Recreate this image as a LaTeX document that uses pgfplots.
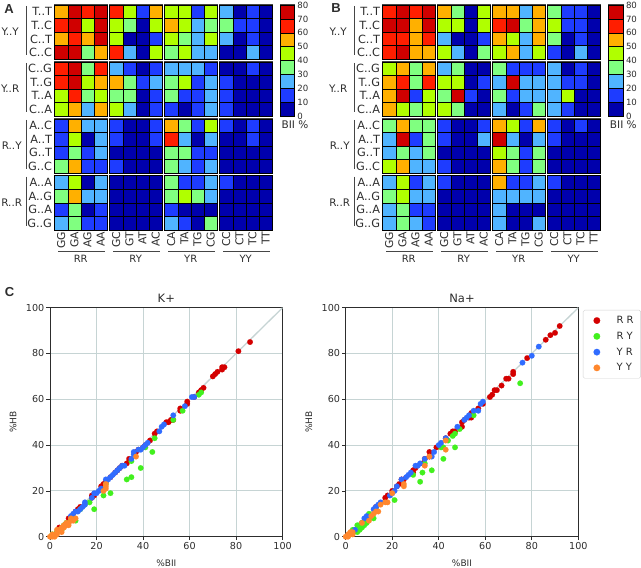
\documentclass[border=0pt]{standalone}
\usepackage{fontspec}
\setmainfont{DejaVu Sans}
\newfontfamily\lett{Liberation Sans}
\usepackage{pgfplots}
\pgfplotsset{compat=1.18}
\definecolor{txt}{RGB}{45,45,45}
\definecolor{frm}{RGB}{70,70,70}
\definecolor{gr}{RGB}{198,212,212}
\definecolor{cRR}{RGB}{212,0,0}
\definecolor{cRY}{RGB}{66,240,30}
\definecolor{cYR}{RGB}{48,108,255}
\definecolor{cYY}{RGB}{255,135,45}
\newcommand{\fs}[1]{\fontsize{#1bp}{#1bp}\selectfont}
% one 4x4 block: left, top, values row by row
\newcommand{\hm}[3]{%
  \addplot[scatter, only marks, mark=square*, mark size=6.5625bp, mark options={yscale=1.034, line width=.45bp},
    scatter/use mapped color={draw=black, fill=mapped color}, point meta=\thisrowno{0}]
    table[header=false, row sep=\\, x expr={#1+13.125*(mod(\coordindex,4)+0.5)}, y expr={#2+13.575*(floor((\coordindex+0.1)/4)+0.5)}]{#3};
  \draw[frm, line width=1bp] (axis cs:#1,#2) rectangle (axis cs:#1+52.5,#2+54.3);
}
\pgfplotsset{
  binv/.style={colormap={bii}{rgb255(5)=(0,0,172) rgb255(15)=(30,60,255) rgb255(25)=(80,180,255) rgb255(35)=(128,255,128) rgb255(45)=(176,255,0) rgb255(55)=(255,176,0) rgb255(65)=(255,30,0) rgb255(75)=(208,0,0)},
    point meta min=5, point meta max=75},
  heat/.style={binv, scale only axis, width=217.5bp, height=225bp, clip=false,
    xmin=0, xmax=217.5, ymin=0, ymax=225, y dir=reverse, axis line style={draw=none},
    major tick length=0pt, xticklabel pos=lower, yticklabel pos=left,
    xtick={6.56,19.69,32.81,45.94,61.56,74.69,87.81,100.94,116.56,129.69,142.81,155.94,171.56,184.69,197.81,210.94},
    xticklabels={GG,GA,AG,AA,GC,GT,AT,AC,CA,TA,TG,CG,CC,CT,TC,TT},
    ytick={6.79,20.36,33.94,47.51,63.69,77.26,90.84,104.41,120.59,134.16,147.74,161.31,177.49,191.06,204.64,218.21},
    yticklabels={T..T,T..C,C..T,C..C,C..G,T..G,T..A,C..A,A..C,A..T,G..T,G..C,A..A,A..G,G..A,G..G},
    x tick label style={rotate=90, anchor=east, inner sep=1.5bp, font=\fs{10.8}, text=txt},
    y tick label style={inner sep=2.5bp, font=\fs{11.3}, text=txt}},
  cbar/.style={binv, scale only axis, width=14.6bp, height=111bp, xmin=-0.5, xmax=0.5, ymin=0, ymax=80, clip=false,
    xtick=\empty, ytick={0,10,...,80}, yticklabel pos=right, major tick length=0pt,
    axis line style={frm, line width=1bp},
    /pgf/number format/assume math mode=true,
    y tick label style={inner sep=2.5bp, font=\fs{8.6}, text=txt}},
  cbarcells/.style={scatter, only marks, mark=square*, mark size=7.3bp, mark options={yscale=.95, line width=.45bp},
    scatter/use mapped color={draw=black, fill=mapped color}, point meta=y},
  sc/.style={scale only axis, width=232.6bp, height=229bp, xmin=0, xmax=100, ymin=0, ymax=100,
    xtick={0,20,...,100}, ytick={0,20,...,100}, grid=major, major grid style={gr, line width=.9bp},
    tick align=outside, major tick length=3.5bp, xtick pos=bottom, ytick pos=left, tick style={txt, line width=.7bp},
    axis line style={txt, line width=.9bp},
    /pgf/number format/assume math mode=true,
    tick label style={font=\fs{9.6}, text=txt, inner sep=2bp},
    xlabel={\%BII}, ylabel={\%HB},
    label style={font=\fs{9}, text=txt},
    xlabel style={yshift=-4.5bp}, ylabel style={yshift=4bp},
    title style={font=\fs{11.5}, text=txt, yshift=-4.5bp}},
  dots/.style={only marks, color=#1, mark=*, mark size=2.8bp, mark options={draw=#1, fill=#1, line width=.1bp}},
  diag/.style={gr, line width=1.3bp, forget plot}
}
\newcommand{\extras}{%
  \node[font=\fs{10.4}, text=txt] at (axis cs:-44.5,26.7) {Y..Y};
  \node[font=\fs{10.4}, text=txt] at (axis cs:-44.5,84) {Y..R};
  \node[font=\fs{10.4}, text=txt] at (axis cs:-43,141) {R..Y};
  \node[font=\fs{10.4}, text=txt] at (axis cs:-43,197.7) {R..R};
  \foreach \yy in {1,57.9,114.8,171.7}{
    \edef\tmp{\noexpand\draw[frm, line width=1.2bp] (axis cs:-28.5,\yy) -- (axis cs:-28.5,\yy+49);}\tmp}
  \node[font=\fs{10}, text=txt] at (axis cs:26,254) {RR};
  \node[font=\fs{10}, text=txt] at (axis cs:81,254) {RY};
  \node[font=\fs{10}, text=txt] at (axis cs:136,254) {YR};
  \node[font=\fs{10}, text=txt] at (axis cs:191,254) {YY};
  \foreach \xx in {3.3,58.3,113.3,168.3}{
    \edef\tmp{\noexpand\draw[frm, line width=1bp] (axis cs:\xx,246.3) -- (axis cs:\xx+46.7,246.3);}\tmp}
}
\begin{document}
\begin{tikzpicture}
\useasboundingbox (0,0) rectangle (641bp,568bp);
\node[font=\lett\fs{13}\bfseries, text=txt] at (9bp,559bp) {A};
\node[font=\lett\fs{13}\bfseries, text=txt] at (336bp,560bp) {B};
\node[font=\lett\fs{13}\bfseries, text=txt] at (9.5bp,276bp) {C};

% panel A
\begin{axis}[heat, at={(54.7bp,338bp)}, anchor=south west]
\hm{0}{0}{55\\75\\65\\75\\65\\75\\45\\75\\55\\65\\55\\75\\75\\75\\35\\55\\}
\hm{55}{0}{65\\45\\15\\55\\45\\35\\5\\45\\45\\5\\5\\15\\65\\25\\5\\45\\}
\hm{110}{0}{45\\45\\15\\45\\55\\45\\25\\35\\45\\35\\25\\45\\35\\45\\25\\25\\}
\hm{165}{0}{25\\5\\15\\5\\35\\15\\15\\5\\25\\5\\15\\5\\5\\5\\25\\5\\}
\hm{0}{56.9}{65\\75\\35\\65\\65\\75\\45\\55\\45\\65\\35\\45\\45\\55\\25\\55\\}
\hm{55}{56.9}{25\\15\\5\\15\\55\\35\\15\\25\\35\\35\\5\\15\\45\\25\\5\\15\\}
\hm{110}{56.9}{25\\25\\25\\15\\35\\45\\15\\25\\35\\15\\15\\25\\15\\5\\15\\25\\}
\hm{165}{56.9}{5\\5\\15\\5\\15\\5\\5\\5\\15\\5\\5\\5\\15\\5\\5\\5\\}
\hm{0}{113.8}{15\\55\\25\\25\\15\\45\\5\\25\\15\\35\\15\\25\\35\\55\\15\\15\\}
\hm{55}{113.8}{15\\5\\5\\15\\15\\5\\5\\15\\5\\5\\5\\5\\15\\5\\5\\5\\}
\hm{110}{113.8}{55\\35\\15\\45\\65\\25\\5\\25\\35\\35\\15\\15\\35\\25\\15\\25\\}
\hm{165}{113.8}{15\\5\\15\\5\\5\\5\\15\\5\\5\\5\\5\\5\\5\\5\\5\\5\\}
\hm{0}{170.7}{25\\45\\5\\25\\35\\55\\25\\25\\15\\35\\5\\15\\25\\35\\15\\15\\}
\hm{55}{170.7}{5\\5\\5\\5\\5\\5\\5\\5\\5\\5\\5\\5\\5\\5\\5\\5\\}
\hm{110}{170.7}{35\\15\\15\\25\\35\\45\\35\\25\\15\\5\\5\\5\\25\\15\\5\\35\\}
\hm{165}{170.7}{15\\5\\5\\5\\5\\5\\5\\5\\5\\5\\5\\5\\5\\5\\5\\5\\}
\extras
\end{axis}
\begin{axis}[cbar, at={(280bp,452bp)}, anchor=south west]
\addplot[cbarcells] coordinates {(0,5)(0,15)(0,25)(0,35)(0,45)(0,55)(0,65)(0,75)};
\end{axis}
\node[font=\fs{10.5}, text=txt] at (295bp,443bp) {BII \%};

% panel B
\begin{axis}[heat, at={(382.7bp,338bp)}, anchor=south west]
\hm{0}{0}{65\\75\\65\\75\\75\\75\\55\\75\\65\\65\\55\\65\\65\\75\\55\\55\\}
\hm{55}{0}{55\\35\\5\\45\\45\\45\\5\\45\\25\\5\\5\\15\\45\\25\\5\\35\\}
\hm{110}{0}{55\\55\\25\\55\\65\\75\\35\\55\\55\\45\\25\\55\\45\\55\\25\\45\\}
\hm{165}{0}{35\\15\\15\\5\\45\\15\\15\\5\\35\\5\\15\\5\\15\\5\\25\\5\\}
\hm{0}{56.9}{45\\55\\35\\55\\55\\65\\35\\65\\55\\75\\15\\45\\55\\45\\35\\45\\}
\hm{55}{56.9}{25\\35\\5\\5\\45\\45\\5\\15\\35\\75\\15\\5\\45\\35\\5\\5\\}
\hm{110}{56.9}{35\\15\\15\\15\\25\\75\\25\\25\\35\\15\\25\\25\\25\\5\\15\\35\\}
\hm{165}{56.9}{25\\5\\15\\5\\25\\15\\15\\5\\25\\45\\5\\5\\25\\15\\5\\5\\}
\hm{0}{113.8}{35\\55\\35\\35\\25\\75\\15\\35\\25\\35\\25\\35\\45\\55\\25\\25\\}
\hm{55}{113.8}{15\\5\\5\\15\\15\\5\\5\\25\\5\\5\\5\\5\\15\\5\\5\\5\\}
\hm{110}{113.8}{55\\45\\15\\55\\75\\25\\5\\25\\45\\35\\15\\35\\55\\35\\15\\35\\}
\hm{165}{113.8}{15\\5\\15\\5\\15\\5\\5\\5\\5\\5\\5\\5\\5\\5\\5\\5\\}
\hm{0}{170.7}{25\\45\\15\\25\\35\\45\\25\\25\\25\\35\\15\\15\\25\\35\\25\\15\\}
\hm{55}{170.7}{15\\5\\5\\5\\5\\5\\5\\5\\5\\5\\5\\5\\5\\5\\5\\5\\}
\hm{110}{170.7}{55\\15\\15\\25\\25\\25\\25\\25\\25\\5\\5\\5\\25\\5\\5\\25\\}
\hm{165}{170.7}{15\\5\\5\\5\\5\\5\\5\\5\\5\\5\\5\\5\\5\\5\\5\\5\\}
\extras
\end{axis}
\begin{axis}[cbar, at={(608.7bp,452bp)}, anchor=south west]
\addplot[cbarcells] coordinates {(0,5)(0,15)(0,25)(0,35)(0,45)(0,55)(0,65)(0,75)};
\end{axis}
\node[font=\fs{10.5}, text=txt] at (623.3bp,443bp) {BII \%};

% panel C, K+
\begin{axis}[sc, at={(50bp,31.3bp)}, anchor=south west, title={K+}]
\addplot[diag] coordinates {(0,0) (100,100)};
\addplot[dots=cRR] coordinates {(86,85)(81,81)(75,74)(74,74)(74,73)(72,72)(71,71)(70,70)(66,65)(65,64)(64,63)(62,61)(59,59)(59,58)(56,56)(56,55)(53,51)(52,51)(51,50)(50,50)(46,46)(45,45)(43,42)(41,40)(40,39)(38,38)(37,37)(34,34)(33,32)(31,31)(30,30)(29,29)(28,28)(26,26)(24,24)(23,23)(22,22)(19,18)(18,18)(18,17)(13,13)(12,12)(11,11)(9,8)(8,8)(4,4)};
\addplot[dots=cRY] coordinates {(44,37)(39,30)(35,26)(33,25)(26,19)(23,18)(19,12)(11,7)(13,12)(17,15)(24,23)(35,33)(45,43)(53,51)(57,55)(64,62)(65,63)(6,5)(1,1)(2,1)(3,2)(5,3)(41,39)(9,8)(7,6)(15,14)};
\addplot[dots=cYR] coordinates {(62,61)(61,61)(58,57)(53,53)(49,49)(48,48)(47,46)(42,41)(41,40)(40,39)(39,38)(38,38)(36,37)(36,36)(35,34)(32,31)(31,31)(30,30)(29,29)(28,28)(27,27)(26,26)(25,25)(24,25)(22,21)(21,20)(20,19)(19,19)(18,17)(15,15)(15,14)(14,13)(13,12)(12,11)(11,11)(10,10)(9,9)(4,3)};
\addplot[dots=cYY] coordinates {(37,35)(24,22)(24,21)(23,20)(24,23)(11,8)(10,7)(9,7)(8,6)(8,5)(7,6)(7,5)(6,5)(5,2)(4,3)(3,3)(3,1)(2,1)(2,0)(1,0)(1,1)(0,0)(5,4)(6,4)(9,8)};
\end{axis}

% panel C, Na+
\begin{axis}[sc, at={(345.7bp,31.3bp)}, anchor=south west, title={Na+},
  legend style={at={(axis description cs:1.02,0.99)}, anchor=north west, draw=gray!35, rounded corners=1.5bp,
    font=\fs{10}, text=txt, row sep=3bp, inner xsep=5bp, inner ysep=4bp, cells={anchor=west},
    /tikz/every even column/.append style={column sep=0bp}},
  legend image code/.code={\draw[#1] plot coordinates {(0.3cm,0cm)};\path (0,0) (0.92cm,0);},
  legend image post style={mark size=3.3bp}]
\addplot[diag] coordinates {(0,0) (100,100)};
\addplot[dots=cRR] coordinates {(92,92)(90,89)(88,88)(86,86)(78,78)(72,72)(72,71)(70,69)(69,69)(67,66)(65,64)(64,64)(63,62)(62,61)(59,58)(57,56)(54,54)(54,52)(53,52)(51,51)(50,50)(50,48)(47,46)(46,46)(45,45)(43,43)(39,39)(36,37)(36,35)(34,34)(33,32)(30,30)(29,28)(29,29)(25,25)(24,25)(23,23)(22,22)(20,20)(18,18)(17,17)(13,13)(10,9)(9,8)(7,6)};
\addplot[dots=cRY] coordinates {(75,67)(47,39)(42,34)(41,39)(42,39)(37,29)(33,28)(32,24)(21,16)(34,32)(29,27)(46,44)(47,45)(44,42)(49,47)(55,53)(12,8)(10,8)(9,6)(8,5)(7,4)(6,3)(5,2)(4,3)(3,3)(5,5)(6,5)(7,6)(10,10)(13,12)(2,1)};
\addplot[dots=cYR] coordinates {(83,83)(80,79)(76,76)(59,59)(58,58)(57,55)(55,55)(53,53)(52,52)(51,51)(48,48)(43,43)(41,41)(40,40)(38,37)(37,35)(34,34)(32,32)(31,31)(30,31)(28,28)(27,27)(26,26)(24,25)(22,22)(21,20)(20,19)(19,18)(15,15)(14,14)(13,13)(12,12)(9,9)(8,8)(4,3)};
\addplot[dots=cYY] coordinates {(43,42)(43,38)(36,35)(34,31)(25,23)(25,22)(20,19)(18,15)(17,15)(15,14)(14,11)(13,11)(12,10)(11,9)(10,7)(7,6)(3,2)(2,1)(1,1)(2,2)(1,0)(0,0)(3,1)};
\legend{R R,R Y,Y R,Y Y}
\end{axis}
\end{tikzpicture}
\end{document}
